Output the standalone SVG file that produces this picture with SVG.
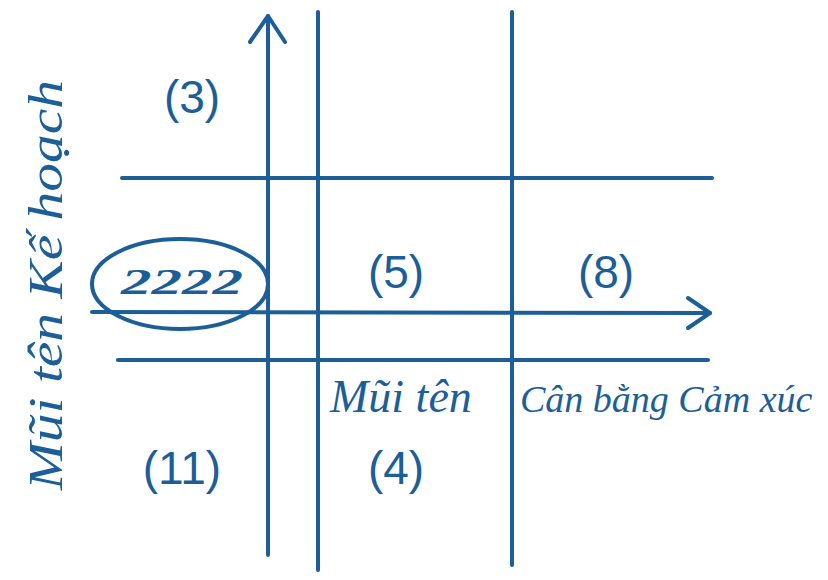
<svg xmlns="http://www.w3.org/2000/svg" width="828" height="580" viewBox="0 0 828 580">
<style>
.ln{stroke:#1b5e98;stroke-width:4;fill:none;stroke-linecap:round;stroke-linejoin:round}
.lb{font-family:"Liberation Sans",Arial,sans-serif;font-size:46px;fill:#1b5e98;text-anchor:middle}
.hw{font-family:"Liberation Serif","Times New Roman",serif;font-style:italic;fill:#1b5e98}
</style>
<rect width="828" height="580" fill="#ffffff"/>
<g id="connectors">
<path class="ln" d="M268,555 L268,16"/>
<path class="ln" d="M250,42 L268,16 L285,42"/>
<path class="ln" d="M318,12 L318,570"/>
<path class="ln" d="M512,12 L512,565"/>
<path class="ln" d="M122,178 L712,178"/>
<path class="ln" d="M92,312 L710,313"/>
<path class="ln" d="M688,298 L710,313 L688,328"/>
<path class="ln" d="M118,360 L708,360"/>
</g>
<g id="node-2222">
<ellipse class="ln" cx="180" cy="284" rx="88" ry="45"/>
<text class="hw" x="182" y="294" font-size="36" font-weight="bold" text-anchor="middle" textLength="122" lengthAdjust="spacingAndGlyphs">2222</text>
</g>
<g id="node-3"><text class="lb" x="192" y="113">(3)</text></g>
<g id="node-5"><text class="lb" x="396" y="288">(5)</text></g>
<g id="node-8"><text class="lb" x="606" y="288">(8)</text></g>
<g id="node-11"><text class="lb" x="182" y="484">(11)</text></g>
<g id="node-4"><text class="lb" x="396" y="484">(4)</text></g>
<g id="label-ke-hoach">
<text class="hw" font-size="48" transform="translate(62,490) rotate(-90)" textLength="410" lengthAdjust="spacingAndGlyphs">Mũi tên Kế hoạch</text>
</g>
<g id="label-cam-xuc">
<text class="hw" x="330" y="412" font-size="46">Mũi tên</text>
<text class="hw" x="520" y="412" font-size="38">Cân bằng Cảm xúc</text>
</g>
</svg>
